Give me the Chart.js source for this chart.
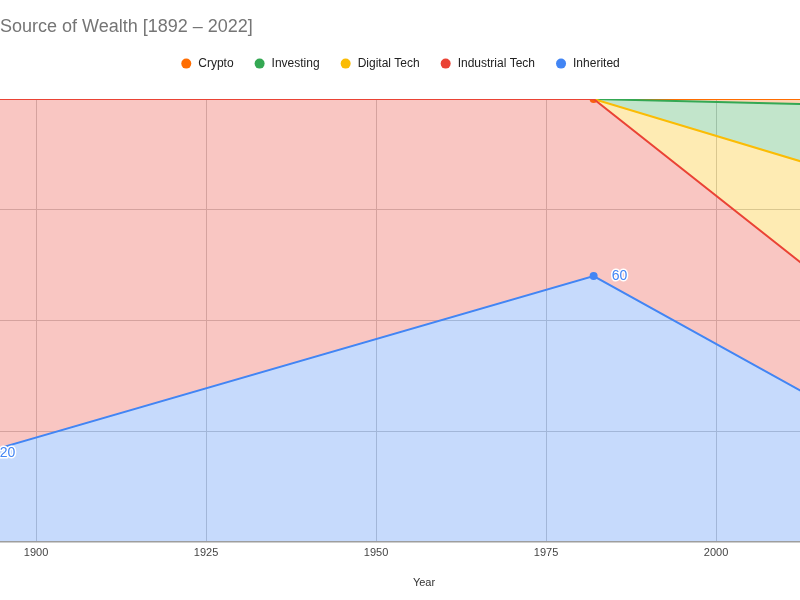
<!DOCTYPE html>
<html>
<head>
<meta charset="utf-8">
<script src="https://cdn.jsdelivr.net/npm/chart.js@4.4.1/dist/chart.umd.min.js"></script>
<style>
html,body{margin:0;padding:0;background:#ffffff;}
#wrap{width:800px;height:600px;}
</style>
</head>
<body>
<div id="wrap"><canvas id="c" width="800" height="600"></canvas></div>
<script>
// ---- data ----
const years = [1892, 1982, 2022];
const inherited = [20, 60, 26];
const industrialTech = [80, 40, 25.5];
const digitalTech = [0, 0, 30];
const investing = [0, 0, 17];
const crypto = [0, 0, 1.5];
const xTickYears = [1900, 1925, 1950, 1975, 2000];
const seriesNames = ['Inherited', 'Industrial Tech', 'Digital Tech', 'Investing', 'Crypto'];
const titleText = 'Source of Wealth [1892 \u2013 2022]';
const xAxisTitle = 'Year';

// ---- styles ----
const lineColors = ['#4285F4', '#EA4335', '#FBBC04', '#34A853', '#FF6D01'];
const fillColors = ['rgba(66,133,244,0.3)', 'rgba(234,67,53,0.3)', 'rgba(251,188,4,0.3)', 'rgba(52,168,83,0.3)', 'rgba(255,109,1,0.3)'];
const FONT = '"Liberation Sans", Arial, Helvetica, sans-serif';
Chart.defaults.font.family = FONT;

const seriesValues = [inherited, industrialTech, digitalTech, investing, crypto];
const datasets = seriesValues.map((vals, i) => ({
  label: seriesNames[i],
  data: years.map((yr, j) => ({ x: yr, y: vals[j] })),
  borderColor: lineColors[i],
  backgroundColor: fillColors[i],
  borderWidth: 2,
  fill: i === 0 ? 'origin' : '-1',
  tension: 0,
  pointRadius: (i === 0 || i === 4) ? 4 : 0,
  pointHoverRadius: 4,
  pointBackgroundColor: lineColors[i],
  pointBorderWidth: 0,
  pointStyle: 'circle'
}));

const extras = {
  id: 'extras',
  afterDatasetsDraw(chart) {
    const ctx = chart.ctx;
    const meta = chart.getDatasetMeta(0);
    ctx.save();
    ctx.font = '14px ' + FONT;
    ctx.textBaseline = 'middle';
    ctx.textAlign = 'left';
    ctx.lineJoin = 'round';
    meta.data.forEach((pt, i) => {
      const txt = String(inherited[i]);
      ctx.lineWidth = 3;
      ctx.strokeStyle = '#ffffff';
      ctx.strokeText(txt, pt.x + 18, pt.y);
      ctx.fillStyle = '#4285F4';
      ctx.fillText(txt, pt.x + 18, pt.y);
    });
    ctx.restore();
  },
  afterDraw(chart) {
    const ctx = chart.ctx;
    const area = chart.chartArea;
    ctx.save();
    ctx.font = '11px ' + FONT;
    ctx.fillStyle = '#333333';
    ctx.textAlign = 'center';
    ctx.textBaseline = 'alphabetic';
    ctx.fillText(xAxisTitle, (area.left + area.right) / 2 + 24, area.bottom + 44);
    ctx.restore();
  }
};

new Chart(document.getElementById('c'), {
  type: 'line',
  data: { datasets },
  plugins: [extras],
  options: {
    responsive: false,
    devicePixelRatio: 1,
    animation: false,
    layout: { autoPadding: false, padding: { top: 0, left: 0, right: 0, bottom: 35 } },
    plugins: {
      title: {
        display: true,
        text: titleText,
        align: 'start',
        color: '#757575',
        font: { size: 18, weight: 'normal', family: FONT },
        padding: { top: 16, bottom: 0 }
      },
      legend: {
        display: true,
        position: 'top',
        align: 'center',
        reverse: true,
        labels: {
          usePointStyle: true,
          pointStyle: 'circle',
          boxWidth: 12,
          boxHeight: 7.07,
          padding: 20,
          color: '#222222',
          font: { size: 12, family: FONT },
          generateLabels(chart) {
            const items = Chart.defaults.plugins.legend.labels.generateLabels(chart);
            items.forEach(it => {
              it.fillStyle = lineColors[it.datasetIndex];
              it.strokeStyle = lineColors[it.datasetIndex];
              it.lineWidth = 0;
              it.pointStyle = 'circle';
            });
            return items;
          }
        }
      },
      tooltip: { enabled: false }
    },
    scales: {
      x: {
        type: 'linear',
        min: 1894.7,
        max: 2012.35,
        afterBuildTicks(scale) {
          scale.ticks = xTickYears.map(v => ({ value: v }));
        },
        ticks: {
          autoSkip: false,
          maxRotation: 0,
          padding: 5,
          color: '#444444',
          font: { size: 11, family: FONT },
          callback: v => String(v)
        },
        grid: { color: '#cccccc', lineWidth: 1, drawTicks: false },
        border: { display: true, color: '#9e9e9e', width: 1.5, z: 1 }
      },
      gap: {
        type: 'linear',
        axis: 'x',
        position: 'top',
        display: true,
        min: 0,
        max: 1,
        ticks: { display: false },
        grid: { display: false, drawTicks: false },
        border: { display: false },
        afterFit(scale) { scale.height = 19.4; }
      },
      y: {
        stacked: true,
        min: 0,
        max: 100,
        ticks: { display: false, stepSize: 25 },
        grid: { color: '#cccccc', lineWidth: 1, drawTicks: false },
        border: { display: false },
        afterFit(scale) { scale.width = 0; }
      }
    }
  }
});
</script>
</body>
</html>
